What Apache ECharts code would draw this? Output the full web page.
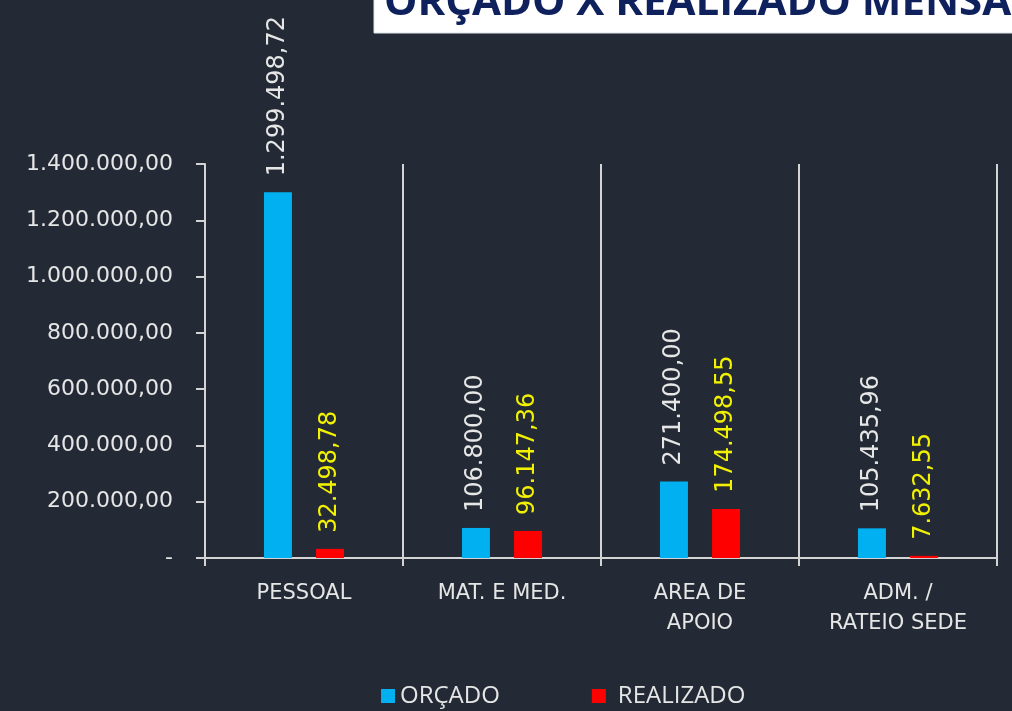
<!DOCTYPE html>
<html>
<head>
<meta charset="utf-8">
<script src="https://cdn.jsdelivr.net/npm/echarts@6/dist/echarts.min.js"></script>
<style>
html,body{margin:0;padding:0;background:#232a35;}
#chart{width:1012px;height:711px;}
</style>
</head>
<body>
<div id="chart"></div>
<script>
const categories = ['PESSOAL', 'MAT. E MED.', 'AREA DE\nAPOIO', 'ADM. /\nRATEIO SEDE'];
const orcado = [1299498.72, 106800.00, 271400.00, 105435.96];
const realizado = [32498.78, 96147.36, 174498.55, 7632.55];
const seriesNames = ['ORÇADO', 'REALIZADO'];
const titleText = 'ORÇADO X REALIZADO MENSAL';

function fmtBR(v) {
  if (v === 0) return '-';
  const parts = v.toFixed(2).split('.');
  const intPart = parts[0].replace(/\B(?=(\d{3})+(?!\d))/g, '.');
  return intPart + ',' + parts[1];
}

const axisColor = '#d4d4d4';
const txt = '#e6e6e6';
const chart = echarts.init(document.getElementById('chart'));
chart.setOption({
  backgroundColor: '#232a35',
  animation: false,
  graphic: [
    { type: 'rect', shape: { x: 374, y: -4, width: 700, height: 37 }, style: { fill: '#ffffff', stroke: '#dfe3ea', lineWidth: 1 } },
    { type: 'text', style: { x: 384, y: 24, text: titleText, fill: '#0f215c', font: 'bold 42px "Open Sans"', textVerticalAlign: 'bottom' } }
  ],
  legend: {
    left: 381, top: 684, padding: 0,
    itemWidth: 14, itemHeight: 14, itemGap: 92,
    icon: 'rect',
    textStyle: { color: txt, fontFamily: 'Open Sans', fontSize: 24 },
    data: [
      { name: seriesNames[0] },
      { name: seriesNames[1], textStyle: { padding: [0, 0, 0, 7] } }
    ]
  },
  grid: { left: 205, right: 15, top: 164, bottom: 153 },
  xAxis: {
    type: 'category',
    data: categories,
    axisLine: { lineStyle: { color: axisColor, width: 2 } },
    axisTick: { show: true, length: 8, lineStyle: { color: axisColor, width: 2 } },
    splitLine: { show: true, lineStyle: { color: axisColor, width: 2 } },
    axisLabel: { color: txt, fontFamily: 'DejaVu Sans', fontSize: 21, margin: 21, lineHeight: 30, interval: 0 }
  },
  yAxis: {
    type: 'value', min: 0, max: 1400000, interval: 200000,
    axisLine: { show: true, lineStyle: { color: axisColor, width: 2 } },
    axisTick: { show: true, length: 9, lineStyle: { color: axisColor, width: 2 } },
    splitLine: { show: false },
    axisLabel: { color: txt, fontFamily: 'DejaVu Sans', fontSize: 22, margin: 32, formatter: fmtBR }
  },
  series: [
    {
      name: seriesNames[0], type: 'bar', data: orcado, barWidth: 28, barGap: '86%',
      itemStyle: { color: '#00b0f0' },
      label: { show: true, position: 'top', rotate: 90, align: 'left', verticalAlign: 'middle', distance: 16,
        color: txt, fontFamily: 'DejaVu Sans', fontSize: 24, formatter: p => fmtBR(p.value) }
    },
    {
      name: seriesNames[1], type: 'bar', data: realizado, barWidth: 28,
      itemStyle: { color: '#ff0000' },
      label: { show: true, position: 'top', rotate: 90, align: 'left', verticalAlign: 'middle', distance: 16,
        color: '#f2f200', fontFamily: 'DejaVu Sans', fontSize: 24, formatter: p => fmtBR(p.value) }
    }
  ]
});
</script>
</body>
</html>
